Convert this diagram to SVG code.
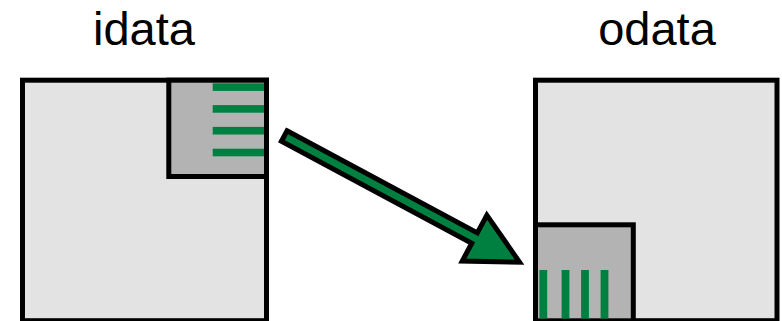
<svg xmlns="http://www.w3.org/2000/svg" width="782" height="321" viewBox="0 0 782 321">
<style>
.lbl{font-family:"Liberation Sans",Arial,sans-serif;font-size:47px;fill:#000;text-anchor:middle}
.big{fill:#e3e3e3;stroke:#000;stroke-width:5}
.tile{fill:#b3b3b3;stroke:#000;stroke-width:5}
.bar{fill:#008040}
.arrow{fill:#008040;stroke:#000;stroke-width:5;stroke-linejoin:miter;stroke-miterlimit:10}
</style>
<rect width="782" height="321" fill="#fff"/>
<g id="idata">
<text class="lbl" x="144" y="45">idata</text>
<rect class="big" x="22.5" y="80.2" width="244" height="240.5"/>
<rect class="tile" x="168.8" y="80.2" width="97.7" height="96.3"/>
<rect class="bar" x="212.7" y="83.3" width="51.3" height="7.6"/>
<rect class="bar" x="212.7" y="105.1" width="51.3" height="7.6"/>
<rect class="bar" x="212.7" y="126.9" width="51.3" height="7.6"/>
<rect class="bar" x="212.7" y="148.7" width="51.3" height="7.6"/>
</g>
<g id="odata">
<text class="lbl" x="657" y="45">odata</text>
<rect class="big" x="535.5" y="80.2" width="241.5" height="240.5"/>
<rect class="tile" x="535.5" y="224.8" width="97.8" height="96"/>
<rect class="bar" x="539.4" y="270" width="7.8" height="48.5"/>
<rect class="bar" x="561.6" y="270" width="7.8" height="48.5"/>
<rect class="bar" x="581.1" y="270" width="7.8" height="48.5"/>
<rect class="bar" x="600.6" y="270" width="7.8" height="48.5"/>
</g>
<g id="connectors">
<polygon class="arrow" transform="translate(284.2 136) rotate(28.2)" points="0,-5.9 216,-5.9 216,-26 267,0 216,26 216,5.9 0,5.9"/>
</g>
</svg>
